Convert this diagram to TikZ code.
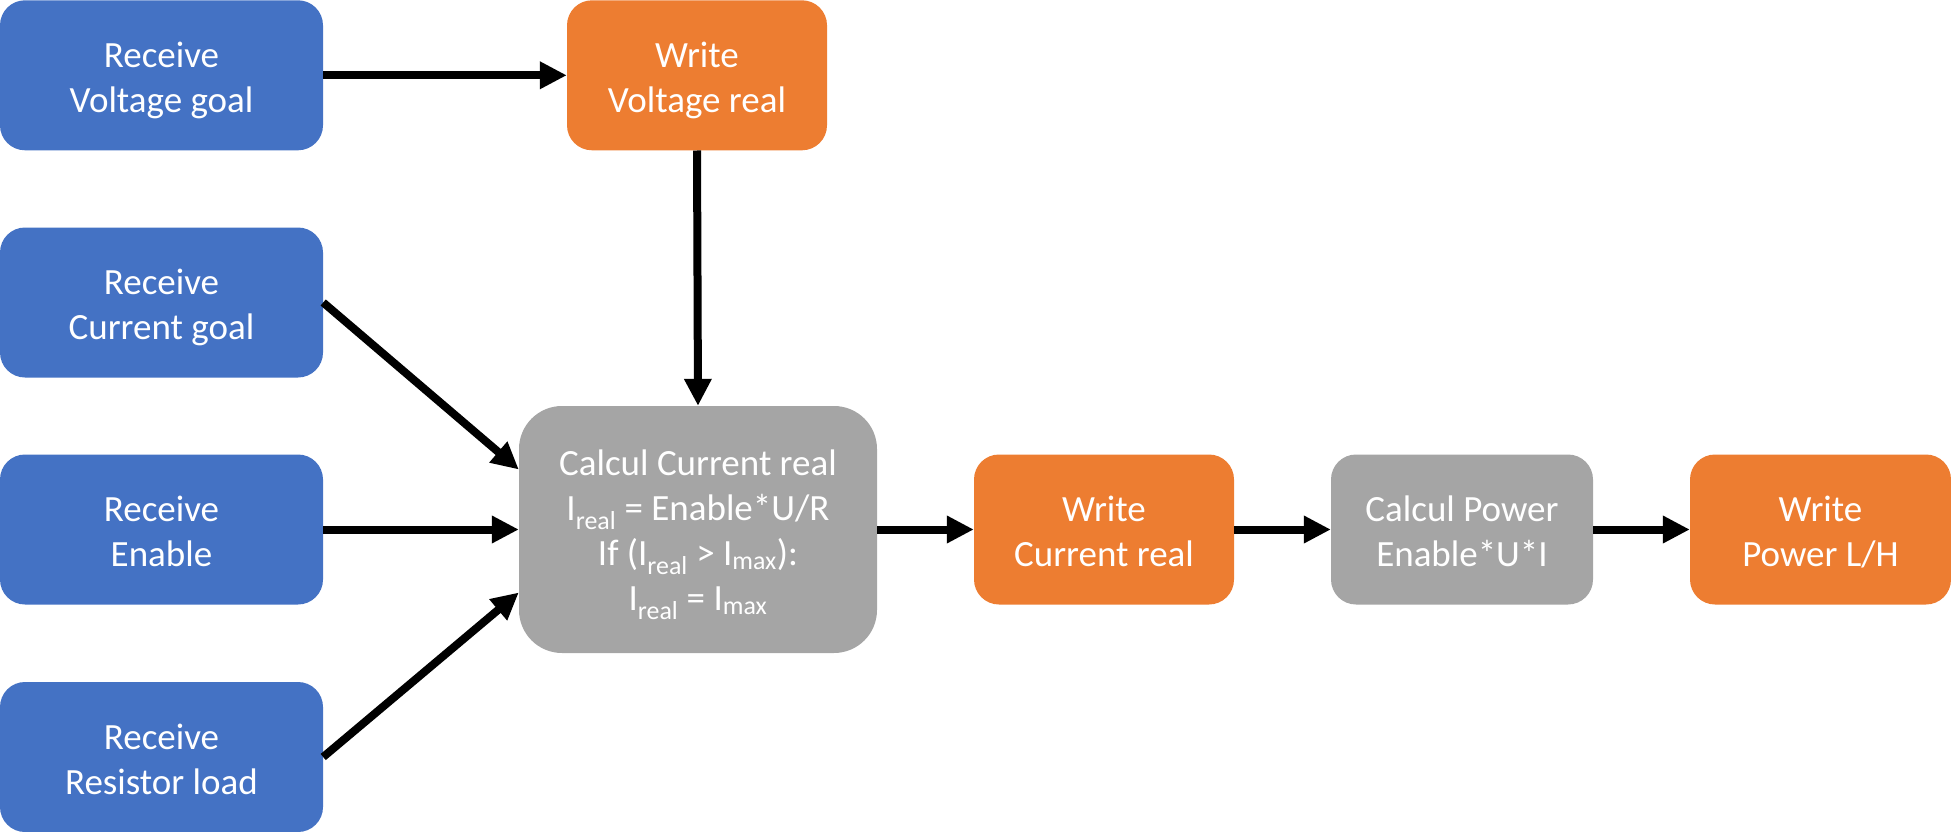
\documentclass[tikz,border=0pt]{standalone}
\usepackage{fontspec}
\setmainfont{Carlito}
\usetikzlibrary{arrows.meta}
\definecolor{cblue}{HTML}{4472C4}
\definecolor{corange}{HTML}{ED7D31}
\definecolor{cgray}{HTML}{A5A5A5}
\newcommand\tx[2][12pt]{\raisebox{-#1}[0pt][0pt]{\begin{tabular}{@{}c@{}}#2\end{tabular}}}
\begin{document}
\begin{tikzpicture}[x=1pt,y=-1pt,
  box/.style={rounded corners=25pt, text=white, align=center, inner sep=0pt,
    font=\fontsize{37pt}{45pt}\selectfont, minimum height=150pt},
  bluebox/.style={box, fill=cblue, minimum width=323pt},
  orangebox/.style={box, fill=corange, minimum width=260pt},
  graybox/.style={box, fill=cgray, minimum width=262pt},
  conn/.style={line width=8pt, -{Triangle[length=27pt,width=26pt]}}]
\useasboundingbox (0,0) rectangle (1951,832);
\node[bluebox] (rvg) at (161.5,75.3) {\tx{Receive\\Voltage goal}};
\node[orangebox] (wvr) at (697,75.3) {\tx{Write\\Voltage real}};
\node[bluebox] (rcg) at (161.5,302.5) {\tx{Receive\\Current goal}};
\node[bluebox] (ren) at (161.5,529.5) {\tx{Receive\\Enable}};
\node[bluebox] (rrl) at (161.5,757) {\tx{Receive\\Resistor load}};
\node[graybox, minimum width=358pt, minimum height=247pt, rounded corners=43pt] (ccr) at (698,529.5)
  {\tx[10.5pt]{Calcul Current real\\I\textsubscript{real} = Enable*U/R\\If (I\textsubscript{real} > I\textsubscript{max}):\\I\textsubscript{real} = I\textsubscript{max}}};
\node[orangebox] (wcr) at (1104,529.5) {\tx{Write\\Current real}};
\node[graybox] (cp) at (1462,529.5) {\tx{Calcul Power\\Enable*U*I}};
\node[orangebox, minimum width=261pt] (wp) at (1820.5,529.5) {\tx{Write\\Power L/H}};
\draw[conn] (rvg.east) -- (wvr.west);
\draw[conn] (wvr.south) -- (ccr.north);
\draw[conn] (rcg.east) -- ([yshift=60pt]ccr.west);
\draw[conn] (ren.east) -- (ccr.west);
\draw[conn] (rrl.east) -- ([yshift=-63pt]ccr.west);
\draw[conn] (ccr.east) -- (wcr.west);
\draw[conn] (wcr.east) -- (cp.west);
\draw[conn] (cp.east) -- (wp.west);
\end{tikzpicture}
\end{document}
